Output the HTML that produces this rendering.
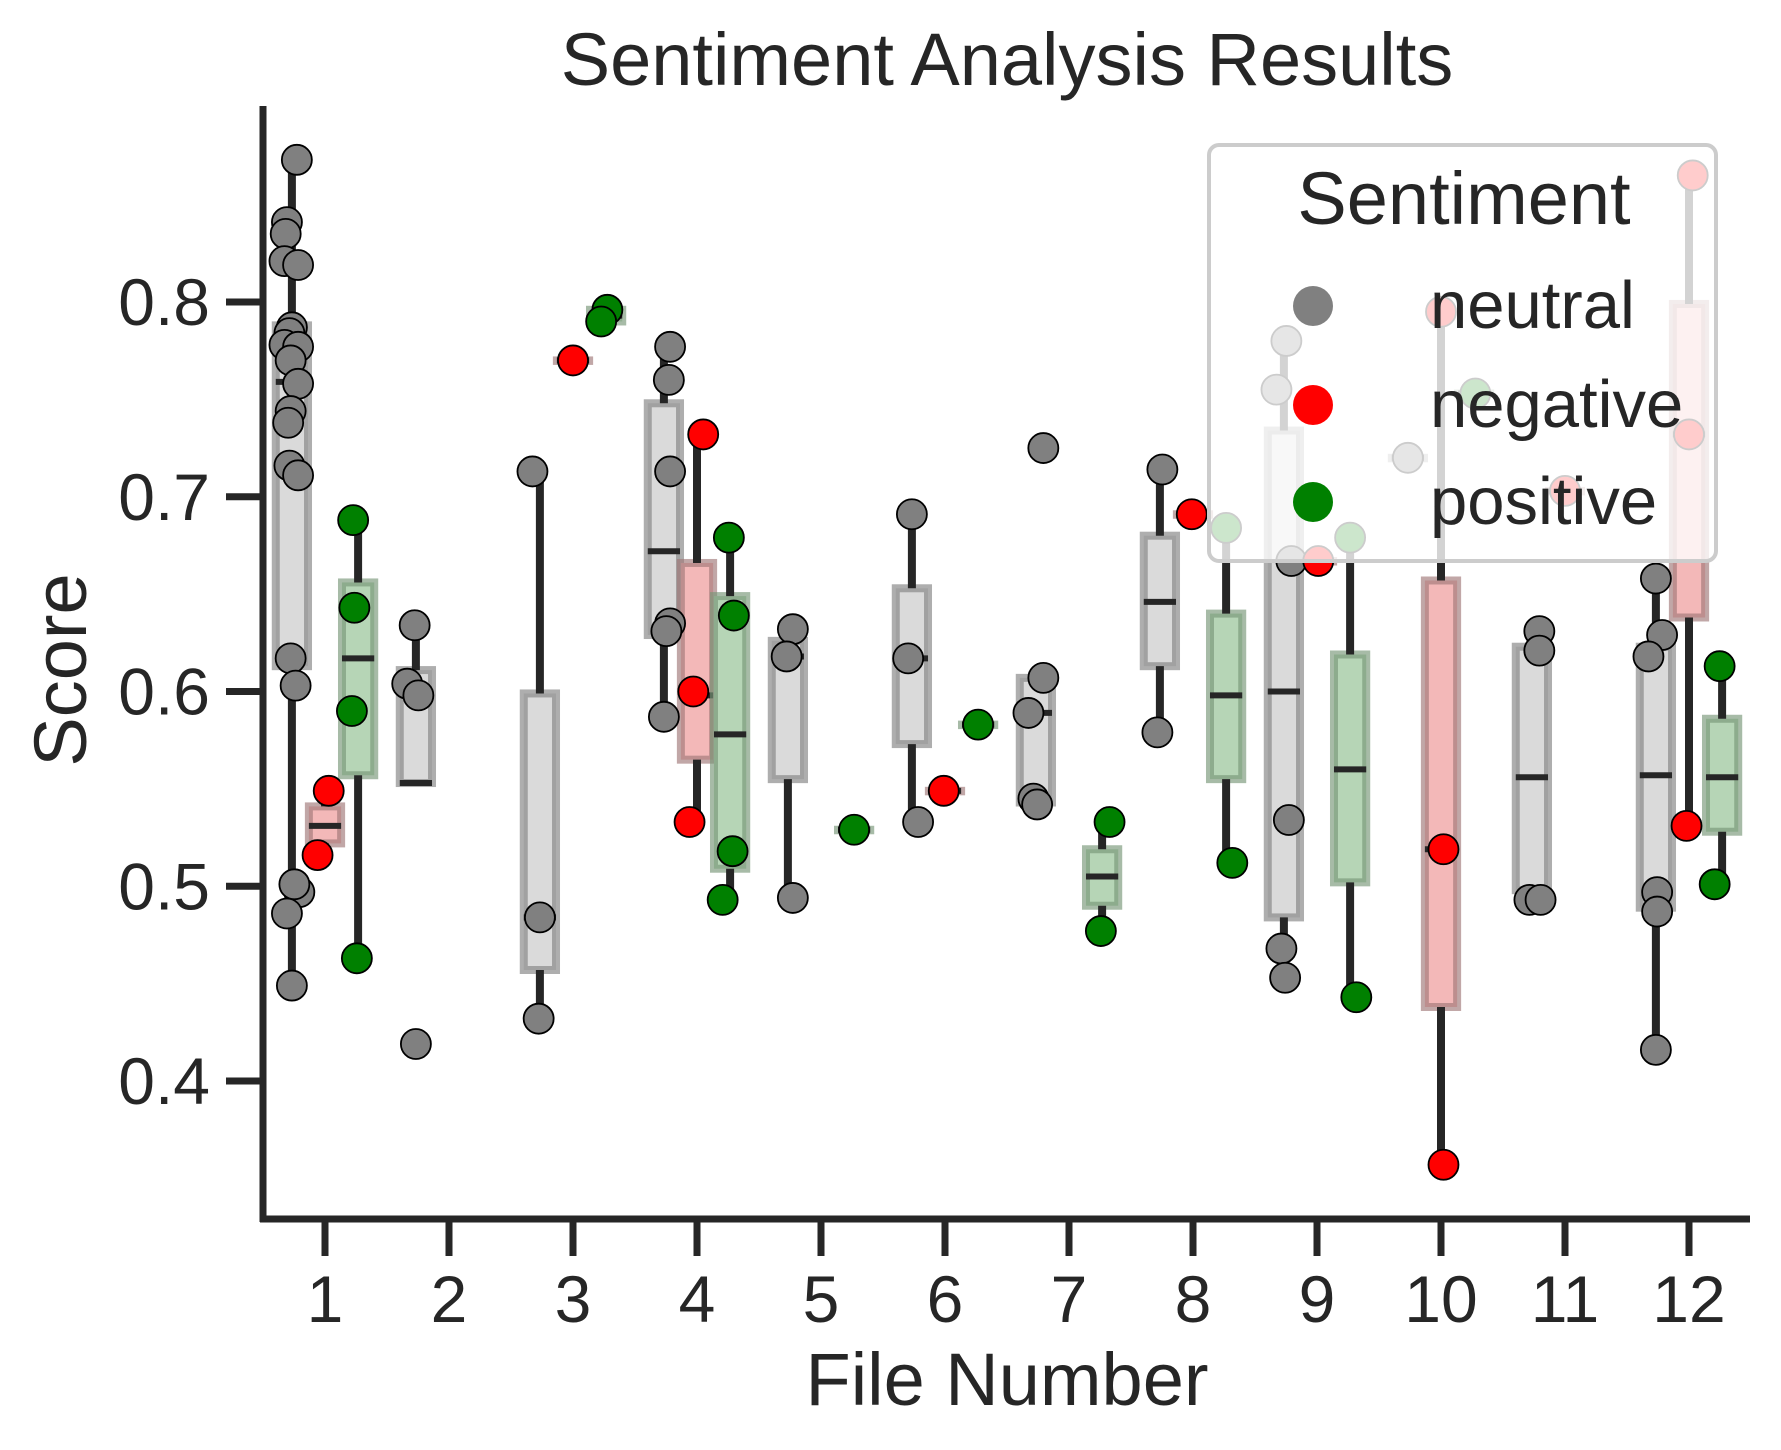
<!DOCTYPE html>
<html><head><meta charset="utf-8"><style>
html,body{margin:0;padding:0;background:#fff}
svg{display:block;font-family:"Liberation Sans",Arial,sans-serif}
</style></head><body>
<svg id="chart" width="1781" height="1450" viewBox="0 0 1781 1450" xmlns="http://www.w3.org/2000/svg">
<text x="1007" y="85" font-size="74" text-anchor="middle" fill="#262626">Sentiment Analysis Results</text>
<text x="1007" y="1405" font-size="74" text-anchor="middle" fill="#262626">File Number</text>
<text x="0" y="0" font-size="74" text-anchor="middle" fill="#262626" transform="translate(86,670) rotate(-90)">Score</text>
<g id="marks"></g>
<line x1="263" y1="106" x2="263" y2="1222" stroke="#262626" stroke-width="7"/>
<line x1="260" y1="1219" x2="1750" y2="1219" stroke="#262626" stroke-width="7"/>
<g id="ticks"></g>
<g id="legend">
<rect x="1209" y="145" width="507" height="416" rx="10" fill="#fff" fill-opacity="0.8" stroke="#cccccc" stroke-width="4"/>
<text x="1464" y="224" font-size="74" text-anchor="middle" fill="#262626">Sentiment</text>
<circle cx="1313" cy="306" r="20" fill="#808080"/>
<text x="1430" y="328" font-size="67" fill="#262626">neutral</text>
<circle cx="1313" cy="405" r="20" fill="#ff0000"/>
<text x="1430" y="427" font-size="67" fill="#262626">negative</text>
<circle cx="1313" cy="502" r="20" fill="#008000"/>
<text x="1430" y="524" font-size="67" fill="#262626">positive</text>
</g>
</svg>
<script>
const hues = ['neutral','negative','positive'];
const fileTicks = [1,2,3,4,5,6,7,8,9,10,11,12];
const yTicks = [0.4,0.5,0.6,0.7,0.8];
const yTickLabels = ['0.4','0.5','0.6','0.7','0.8'];
// box stats
const boxFile = [1,1,1,2,3,3,3,4,4,4,5,5,6,6,6,7,7,8,8,8,9,9,9,10,10,10,11,11,12,12,12];
const boxHue  = [0,1,2,0,0,1,2,0,1,2,0,2,0,1,2,0,2,0,1,2,0,1,2,0,1,2,0,1,0,1,2];
const boxQ1   = [.613,.522,.557,.553,.457,.770,.790,.629,.565,.509,.555,.529,.573,.549,.583,.543,.490,.613,.691,.555,.484,.667,.502,.720,.438,.753,.498,.703,.489,.638,.528];
const boxMed  = [.759,.531,.617,.553,.484,.770,.793,.672,.598,.578,.618,.529,.617,.549,.583,.589,.505,.646,.691,.598,.600,.667,.560,.720,.519,.753,.556,.703,.557,.732,.556];
const boxQ3   = [.788,.541,.656,.611,.599,.770,.796,.748,.666,.649,.626,.529,.653,.549,.583,.607,.519,.680,.691,.640,.734,.667,.619,.720,.657,.753,.623,.703,.623,.799,.586];
const boxLo   = [.449,.516,.463,.553,.432,.770,.790,.587,.533,.493,.494,.529,.533,.549,.583,.542,.477,.579,.691,.512,.453,.667,.443,.720,.357,.753,.493,.703,.416,.531,.501];
const boxHi   = [.873,.549,.688,.634,.713,.770,.796,.777,.732,.679,.632,.529,.691,.549,.583,.607,.533,.714,.691,.684,.780,.667,.679,.720,.795,.753,.631,.703,.658,.865,.613];
// points
const ptFile = [1,1,1,1,1,1,1,1,1,1,1,1,1,1,1,1,1,1,1,1,1, 1,1, 1,1,1,1, 2,2,2,2, 3,3,3, 3, 3,3, 4,4,4,4,4,4, 4,4,4, 4,4,4,4, 5,5,5, 5, 6,6,6, 6, 6, 7,7,7,7,7, 7,7, 8,8, 8, 8,8, 9,9,9,9,9,9, 9, 9,9, 10, 10,10,10, 10, 11,11,11,11, 11, 12,12,12,12,12,12, 12,12,12, 12,12];
const ptHue  = [0,0,0,0,0,0,0,0,0,0,0,0,0,0,0,0,0,0,0,0,0, 1,1, 2,2,2,2, 0,0,0,0, 0,0,0, 1, 2,2, 0,0,0,0,0,0, 1,1,1, 2,2,2,2, 0,0,0, 2, 0,0,0, 1, 2, 0,0,0,0,0, 2,2, 0,0, 1, 2,2, 0,0,0,0,0,0, 1, 2,2, 0, 1,1,1, 2, 0,0,0,0, 1, 0,0,0,0,0,0, 1,1,1, 2,2];
const ptVal  = [.873,.841,.835,.821,.819,.787,.784,.778,.777,.770,.758,.744,.738,.716,.711,.617,.603,.497,.501,.486,.449, .549,.516, .688,.643,.590,.463, .634,.604,.598,.419, .713,.484,.432, .770, .796,.790, .777,.760,.713,.635,.631,.587, .732,.600,.533, .679,.639,.518,.493, .632,.618,.494, .529, .691,.617,.533, .549, .583, .725,.607,.589,.545,.542, .533,.477, .714,.579, .691, .684,.512, .780,.755,.667,.534,.468,.453, .667, .679,.443, .720, .795,.519,.357, .753, .631,.621,.493,.493, .703, .658,.629,.618,.497,.487,.416, .865,.732,.531, .613,.501];
const ptJit  = [.04,-.04,-.05,-.06,.05,0,-.02,-.06,.05,-.01,.05,-.01,-.03,-.02,.05,-.01,.03,.06,.02,-.04,0, .03,-.06, -.04,-.03,-.05,-.01, -.01,-.07,.02,0, -.06,0,-.01, 0, .01,-.04, .05,.04,.05,.05,.02,0, .05,-.03,-.06, -.01,.03,.02,-.06, .04,-.01,.04, 0, 0,-.03,.05, -.01, 0, .06,.06,-.06,-.02,.01, .06,-.01, .02,-.02, -.01, 0,.05, .02,-.06,.06,.04,-.02,.01, .01, 0,.05, 0, 0,.02,.02, .01, .06,.06,-.02,.07, 0, 0,.05,-.06,.01,.01,0, .03,0,-.02, -.02,-.06];

const hueOffset = [-0.267, 0, 0.267];
const boxW = 0.26;
const ptFill = ['#808080','#ff0000','#008000'];
const boxFill = ['#dadada','#f3b8b8','#b6d5b6'];
const boxEdge = ['rgba(130,130,130,0.65)','rgba(160,120,120,0.65)','rgba(120,150,120,0.65)'];
function xs(u){ return 325 + (u-1)*124; }
function ys(v){ return 302 + (0.8 - v)*1947.5; }
const NS='http://www.w3.org/2000/svg';
const marks=document.getElementById('marks');
const ticks=document.getElementById('ticks');
function mk(tag,attrs,parent){const e=document.createElementNS(NS,tag);for(const k in attrs)e.setAttribute(k,attrs[k]);parent.appendChild(e);return e;}

for(let i=0;i<boxFile.length;i++){
  const c=boxFile[i]+hueOffset[boxHue[i]];
  const x0=xs(c-boxW/2), x1=xs(c+boxW/2);
  const r=mk('rect',{x:x0,y:ys(boxQ3[i]),width:x1-x0,height:Math.max(ys(boxQ1[i])-ys(boxQ3[i]),0.5),fill:boxFill[boxHue[i]],stroke:boxEdge[boxHue[i]],'stroke-width':8},marks);
  
  
  const w1=mk('line',{x1:xs(c),x2:xs(c),y1:ys(boxQ3[i]),y2:ys(boxHi[i]),stroke:'#262626','stroke-width':8},marks);
  
  
  const w2=mk('line',{x1:xs(c),x2:xs(c),y1:ys(boxQ1[i]),y2:ys(boxLo[i]),stroke:'#262626','stroke-width':8},marks);
  
  
  const m=mk('line',{x1:x0,x2:x1,y1:ys(boxMed[i]),y2:ys(boxMed[i]),stroke:'#262626','stroke-width':6},marks);
  
  
}
for(let i=0;i<ptVal.length;i++){
  const c=ptFile[i]+hueOffset[ptHue[i]]+ptJit[i];
  const p=mk('circle',{cx:xs(c),cy:ys(ptVal[i]),r:15,fill:ptFill[ptHue[i]],stroke:'#000','stroke-width':1.8},marks);
  
  
}
for(let i=0;i<yTicks.length;i++){
  const y=ys(yTicks[i]);
  const t=mk('line',{x1:226,x2:263,y1:y,y2:y,stroke:'#262626','stroke-width':7},ticks);
  
  
  const l=mk('text',{x:210,y:y+23,'font-size':66,'text-anchor':'end',fill:'#262626'},ticks);
  l.textContent=yTickLabels[i];
  
  
}
for(let i=0;i<fileTicks.length;i++){
  const x=xs(fileTicks[i]);
  const t=mk('line',{x1:x,x2:x,y1:1219,y2:1256,stroke:'#262626','stroke-width':7},ticks);
  
  
  const l=mk('text',{x:x,y:1322,'font-size':66,'text-anchor':'middle',fill:'#262626'},ticks);
  l.textContent=String(fileTicks[i]);
  
  
}
</script>
</body></html>
